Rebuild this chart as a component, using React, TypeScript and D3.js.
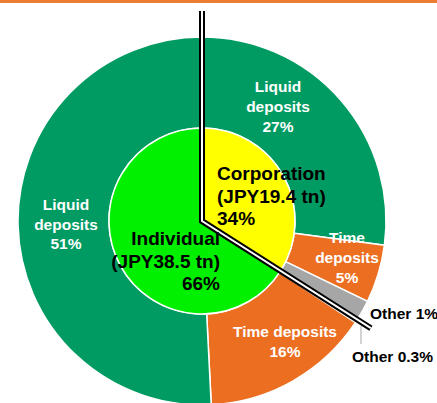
import React, { useEffect, useRef } from 'react';
import * as d3 from 'd3';

// inner pie: customer type
const innerNames = ['Corporation', 'Individual'];
const innerValues = [34, 66];
const innerLabels = [
  ['Corporation', '(JPY19.4 tn)', '34%'],
  ['Individual', '(JPY38.5 tn)', '66%'],
];

// outer ring: deposit type (share of total)
const outerNames = ['Liquid deposits', 'Time deposits', 'Other', 'Other', 'Time deposits', 'Liquid deposits'];
const outerValues = [27.1, 5.1, 1.8, 0.3, 14.9, 50.8];
const outerLabels = [
  ['Liquid', 'deposits', '27%'],
  ['Time', 'deposits', '5%'],
  ['Other 1%'],
  ['Other 0.3%'],
  ['Time deposits', '16%'],
  ['Liquid', 'deposits', '51%'],
];

export default function App() {
  const svgRef = useRef<SVGSVGElement>(null);

  useEffect(() => {
    const width = 437;
    const height = 403;
    const cx = 202, cy = 221;
    const rInner = 93, rOuter = 184;

    const svg = d3.select(svgRef.current)
      .attr('width', width)
      .attr('height', height);
    svg.selectAll('*').remove();

    // orange rule at the top
    svg.append('rect')
      .attr('x', 0).attr('y', 0)
      .attr('width', width).attr('height', 3)
      .attr('fill', '#ED7D31');

    const g = svg.append('g').attr('transform', `translate(${cx},${cy})`);

    const pie = d3.pie<number>().sort(null).value(d => d);

    const outerColor = (name: string) =>
      name === 'Liquid deposits' ? '#009B62' : name === 'Time deposits' ? '#EB6E21' : '#A6A6A6';
    const innerColor = d3.scaleOrdinal<string>().domain(innerNames).range(['#FFFF00', '#00F000']);

    const outerArc = d3.arc<d3.PieArcDatum<number>>().innerRadius(rInner).outerRadius(rOuter);
    const innerArc = d3.arc<d3.PieArcDatum<number>>().innerRadius(0).outerRadius(rInner);

    g.append('g')
      .selectAll('path')
      .data(pie(outerValues))
      .enter()
      .append('path')
      .attr('d', outerArc)
      .attr('fill', (d, i) => outerColor(outerNames[i]))
      .attr('stroke', '#fff')
      .attr('stroke-width', 1.5);

    const innerArcs = pie(innerValues);
    g.append('g')
      .selectAll('path')
      .data(innerArcs)
      .enter()
      .append('path')
      .attr('d', innerArc)
      .attr('fill', (d, i) => innerColor(innerNames[i]))
      .attr('stroke', '#fff')
      .attr('stroke-width', 1.5);

    // double separator line between corporation and individual
    const boundary = innerArcs[0].endAngle;
    const sep = d3.line()([
      [0, -210],
      [0, 0],
      [Math.sin(boundary) * 200, -Math.cos(boundary) * 200],
    ]);
    g.append('path').attr('d', sep).attr('fill', 'none')
      .attr('stroke', '#000').attr('stroke-width', 6).attr('stroke-linejoin', 'miter');
    g.append('path').attr('d', sep).attr('fill', 'none')
      .attr('stroke', '#fff').attr('stroke-width', 2).attr('stroke-linejoin', 'miter');

    // label layout (pixel offsets from the centre)
    const outerPos = [
      { x: 76, y: -129, anchor: 'middle', color: '#fff', lh: 20 },
      { x: 145, y: 22, anchor: 'middle', color: '#fff', lh: 20 },
      { x: 168, y: 98, anchor: 'start', color: '#000', lh: 20 },
      { x: 150, y: 141, anchor: 'start', color: '#000', lh: 20 },
      { x: 83, y: 116, anchor: 'middle', color: '#fff', lh: 20 },
      { x: -136, y: -11, anchor: 'middle', color: '#fff', lh: 19.5 },
    ];
    const innerPos = [
      { x: 15, y: -41, anchor: 'start', lh: 22.5 },
      { x: 18, y: 24, anchor: 'end', lh: 22.5 },
    ];

    const font = '"Liberation Sans", Arial, sans-serif';

    outerLabels.forEach((lines, i) => {
      const p = outerPos[i];
      const t = g.append('text')
        .attr('text-anchor', p.anchor)
        .attr('font-family', font)
        .attr('font-weight', 'bold')
        .attr('font-size', 15.5)
        .attr('fill', p.color);
      lines.forEach((line, j) => {
        t.append('tspan').attr('x', p.x).attr('y', p.y + j * p.lh).text(line);
      });
    });

    // leader for "Other 0.3%"
    g.append('line')
      .attr('x1', 159).attr('y1', 105)
      .attr('x2', 159).attr('y2', 123)
      .attr('stroke', '#A6A6A6').attr('stroke-width', 1);

    innerLabels.forEach((lines, i) => {
      const p = innerPos[i];
      const t = g.append('text')
        .attr('text-anchor', p.anchor)
        .attr('font-family', font)
        .attr('font-weight', 'bold')
        .attr('font-size', 19)
        .attr('fill', '#000');
      lines.forEach((line, j) => {
        t.append('tspan').attr('x', p.x).attr('y', p.y + j * p.lh).text(line);
      });
    });
  }, []);

  return (
    <div style={{ position: 'absolute', left: 0, top: 0 }}>
      <svg ref={svgRef} style={{ display: 'block' }}></svg>
    </div>
  );
}
